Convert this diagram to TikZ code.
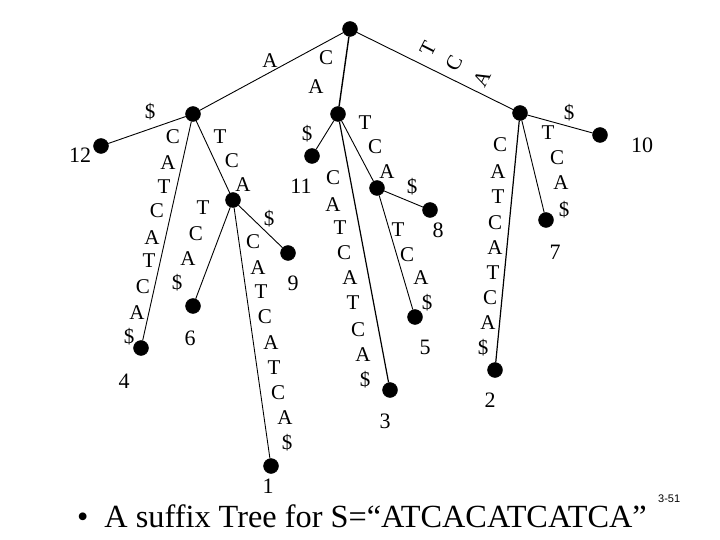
\documentclass[tikz,border=0pt]{standalone}
\usepackage{fontspec}
\setmainfont{Liberation Serif}
\newfontfamily\treefont{Liberation Serif}
\newfontfamily\pagefont{Liberation Sans}
\begin{document}
\begin{tikzpicture}[x=1pt,y=-1pt,
	dot/.style={circle,fill=black,draw=black,inner sep=0pt,minimum width=15pt,minimum height=14pt},
	lbl/.style={inner sep=0pt,font=\treefont\fontsize{21}{21}\selectfont},
	num/.style={inner sep=0pt,font=\treefont\fontsize{22}{22}\selectfont},
	edge/.style={black,line width=0.9pt}]
	\useasboundingbox (0,0) rectangle (720,540);
	\node [dot] (root) at (350,29) {};
	\node [dot] (nA) at (193,114) {};
	\node [dot] (nCA) at (338,114) {};
	\node [dot] (nTCA) at (520,113) {};
	\node [dot] (nATCA) at (233,200) {};
	\node [dot] (nCATCA) at (377,188) {};
	\node [dot] (l12) at (101,146) {};
	\node [dot] (l4) at (141,348) {};
	\node [dot] (l6) at (193,306) {};
	\node [dot] (l9) at (288,253) {};
	\node [dot] (l1) at (271,466) {};
	\node [dot] (l11) at (312,156) {};
	\node [dot] (l8) at (430,210) {};
	\node [dot] (l5) at (415,317) {};
	\node [dot] (l3) at (390,390) {};
	\node [dot] (l2) at (495,370) {};
	\node [dot] (l7) at (546,220) {};
	\node [dot] (l10) at (600,135) {};
	\draw [edge] (root) -- (nA);
	\draw [edge,line width=1.4pt] (root) -- (nCA);
	\draw [edge] (root) -- (nTCA);
	\draw [edge] (nA) -- (l12);
	\draw [edge] (nA) -- (l4);
	\draw [edge] (nA) -- (nATCA);
	\draw [edge] (nATCA) -- (l6);
	\draw [edge] (nATCA) -- (l9);
	\draw [edge] (nATCA) -- (l1);
	\draw [edge] (nCA) -- (l11);
	\draw [edge] (nCA) -- (nCATCA);
	\draw [edge,line width=1.2pt] (nCA) -- (l3);
	\draw [edge] (nCATCA) -- (l8);
	\draw [edge] (nCATCA) -- (l5);
	\draw [edge,line width=1.2pt] (nTCA) -- (l2);
	\draw [edge] (nTCA) -- (l7);
	\draw [edge] (nTCA) -- (l10);
	\node [lbl] (ra1) at (270,61) {A};
	\node [lbl] (rc1) at (326,58) {C};
	\node [lbl] (rc2) at (316,87) {A};
	\node [lbl,rotate=63] (rt1) at (428,49) {T};
	\node [lbl,rotate=63] (rt2) at (454,63) {C};
	\node [lbl,rotate=63] (rt3) at (482,79) {A};
	\node [lbl] (a12) at (150,112) {\$};
	\node [lbl] (a4a) at (173,137) {C};
	\node [lbl] (a4b) at (168,163) {A};
	\node [lbl] (a4c) at (164,187) {T};
	\node [lbl] (a4d) at (157,211) {C};
	\node [lbl] (a4e) at (152,238) {A};
	\node [lbl] (a4f) at (149,261) {T};
	\node [lbl] (a4g) at (143,287) {C};
	\node [lbl] (a4h) at (137,313) {A};
	\node [lbl] (a4i) at (129,337) {\$};
	\node [lbl] (aa1) at (220,137) {T};
	\node [lbl] (aa2) at (232,161) {C};
	\node [lbl] (aa3) at (243,185) {A};
	\node [lbl] (a6a) at (203,208) {T};
	\node [lbl] (a6b) at (196,234) {C};
	\node [lbl] (a6c) at (188,259) {A};
	\node [lbl] (a6d) at (177,283) {\$};
	\node [lbl] (a9a) at (269,219) {\$};
	\node [lbl] (a1a) at (253,242) {C};
	\node [lbl] (a1b) at (258,268) {A};
	\node [lbl] (a1c) at (261,292) {T};
	\node [lbl] (a1d) at (265,317) {C};
	\node [lbl] (a1e) at (271,343) {A};
	\node [lbl] (a1f) at (274,368) {T};
	\node [lbl] (a1g) at (278,393) {C};
	\node [lbl] (a1h) at (285,418) {A};
	\node [lbl] (a1i) at (287,443) {\$};
	\node [lbl] (c11) at (307,134) {\$};
	\node [lbl] (cc1) at (365,123) {T};
	\node [lbl] (cc2) at (375,147) {C};
	\node [lbl] (cc3) at (387,172) {A};
	\node [lbl] (c3a) at (333,178) {C};
	\node [lbl] (c3b) at (333,205) {A};
	\node [lbl] (c3c) at (340,228) {T};
	\node [lbl] (c3d) at (344,253) {C};
	\node [lbl] (c3e) at (350,278) {A};
	\node [lbl] (c3f) at (353,303) {T};
	\node [lbl] (c3g) at (358,330) {C};
	\node [lbl] (c3h) at (363,355) {A};
	\node [lbl] (c3i) at (365,380) {\$};
	\node [lbl] (c8a) at (412,187) {\$};
	\node [lbl] (c5a) at (398,230) {T};
	\node [lbl] (c5b) at (407,255) {C};
	\node [lbl] (c5c) at (421,278) {A};
	\node [lbl] (c5d) at (427,303) {\$};
	\node [lbl] (t2a) at (500,145) {C};
	\node [lbl] (t2b) at (498,172) {A};
	\node [lbl] (t2c) at (498,197) {T};
	\node [lbl] (t2d) at (495,223) {C};
	\node [lbl] (t2e) at (495,248) {A};
	\node [lbl] (t2f) at (493,273) {T};
	\node [lbl] (t2g) at (490,298) {C};
	\node [lbl] (t2h) at (488,323) {A};
	\node [lbl] (t2i) at (483,348) {\$};
	\node [lbl] (t7a) at (548,133) {T};
	\node [lbl] (t7b) at (557,158) {C};
	\node [lbl] (t7c) at (561,183) {A};
	\node [lbl] (t7d) at (564,210) {\$};
	\node [lbl] (t10) at (569,113) {\$};
	\node [num] (n12) at (80,155) {12};
	\node [num] (n11) at (301,186) {11};
	\node [num] (n10) at (642,145) {10};
	\node [num] (n9) at (293,283) {9};
	\node [num] (n8) at (438,230) {8};
	\node [num] (n7) at (555,252) {7};
	\node [num] (n6) at (190,338) {6};
	\node [num] (n5) at (425,347) {5};
	\node [num] (n4) at (124,381) {4};
	\node [num] (n3) at (385,421) {3};
	\node [num] (n2) at (490,400) {2};
	\node [num] (n1) at (268,486) {1};
	\node [anchor=base west,inner sep=0pt,font=\treefont\fontsize{32.3}{33}\selectfont] (caption) at (77,527) {\textbullet\hspace{16pt}A suffix Tree for S=“ATCACATCATCA”};
	\node [anchor=base west,inner sep=0pt,font=\pagefont\fontsize{11}{11}\selectfont] (pageno) at (658,502) {3-51};
\end{tikzpicture}
\end{document}
